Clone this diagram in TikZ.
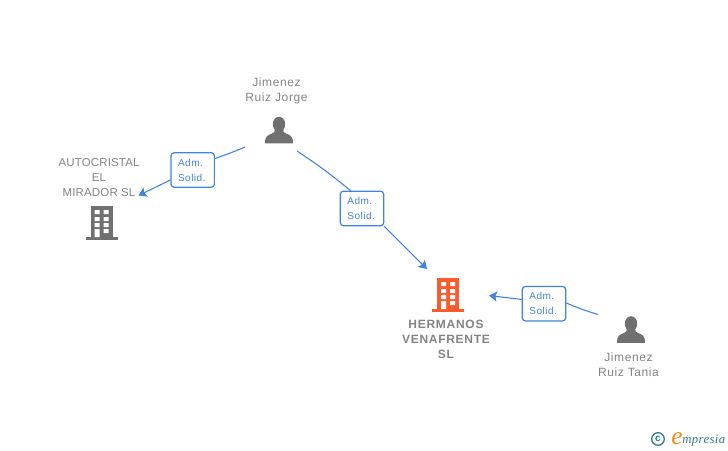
\documentclass[tikz,border=0pt]{standalone}
\usepackage{fontspec}
\setmainfont{Liberation Sans}
\newfontfamily\namefont[LetterSpace=5]{Liberation Sans}
\newfontfamily\orgfont[LetterSpace=1.5]{Liberation Sans}
\newfontfamily\boldnamefont[LetterSpace=6]{Liberation Sans Bold}
\newfontfamily\labfont[LetterSpace=5]{Liberation Sans}
\newfontfamily\logofont[LetterSpace=3]{Liberation Serif Italic}
\usetikzlibrary{arrows.meta}
\definecolor{txtgray}{HTML}{848484}
\definecolor{icongray}{HTML}{707070}
\definecolor{linkblue}{HTML}{3F83E0}
\definecolor{orangeb}{HTML}{FF5A2B}
\definecolor{logoteal}{HTML}{2E7C8E}
\definecolor{logoorange}{HTML}{F08A1D}
\tikzset{
  px/.style={x=0.75pt,y=-0.75pt},
  nametext/.style={text=txtgray,align=center,font=\fontsize{9}{11.25}\selectfont\namefont,inner sep=0pt},
  orgtext/.style={text=txtgray,align=center,font=\fontsize{8.6}{11.25}\selectfont\orgfont,inner sep=0pt},
  boldtext/.style={text=txtgray,align=center,font=\fontsize{9}{11.25}\selectfont\boldnamefont,inner sep=0pt},
  rolebox/.style={draw=linkblue,line width=0.9pt,rounded corners=2.2pt,fill=white,text=linkblue,align=left,text width=22pt,
    minimum width=32.5pt,minimum height=25.8pt,inner sep=0pt,font=\fontsize{7.5}{11.25}\selectfont\labfont},
  link/.style={draw=linkblue,line width=0.8pt},
  arrowlink/.style={link,-{Stealth[length=6pt,width=7.5pt,inset=1.2pt]}},
}
\newcommand{\personicon}[2]{%
  \begin{scope}[shift={(#1,#2)}]
    \fill[icongray] (0,-9.8) ellipse (6.2 and 7.5);
    \fill[icongray] (-14,9.3) .. controls (-14.5,2.5) and (-11,1) .. (-7,-0.5)
      .. controls (-5,-1.3) and (-4,-2) .. (-4,-5) -- (4,-5)
      .. controls (4,-2) and (5,-1.3) .. (7,-0.5)
      .. controls (11,1) and (14.5,2.5) .. (14,9.3) -- cycle;
  \end{scope}}
\newcommand{\buildingicon}[3]{%
  \begin{scope}[shift={(#1,#2)}]
    \fill[#3] (-11,-17) rectangle (11,14);
    \fill[#3] (-16,14) rectangle (16,17);
    \fill[white]
      (-7,-13) rectangle (-2,-9)  (2,-13) rectangle (7,-9)
      (-7,-6) rectangle (-2,-2)   (2,-6) rectangle (7,-2)
      (-7,0) rectangle (-2,4)     (2,0) rectangle (7,4)
      (-7,6) rectangle (-2,14)    (2,6) rectangle (7,10);
  \end{scope}}
\begin{document}
\begin{tikzpicture}[px]
\useasboundingbox (0,0) rectangle (728,450);
\fill[white] (0,0) rectangle (728,450);

% icons
\personicon{279}{134}
\personicon{631}{333.5}
\buildingicon{101.5}{223}{icongray}
\buildingicon{448}{295}{orangeb}

% texts
\node[nametext] (jorge) at (276.5,90.5) {Jimenez\\Ruiz Jorge};
\node[nametext] (tania) at (628.5,365) {Jimenez\\Ruiz Tania};
\node[orgtext] (auto) at (99,177.5) {AUTOCRISTAL\\EL\\MIRADOR SL};
\node[boldtext] (herm) at (446,339) {HERMANOS\\VENAFRENTE\\SL};

% role boxes
\node[rolebox] (r1) at (192.7,170) {Adm.\\Solid.};
\node[rolebox] (r2) at (362,208.5) {Adm.\\Solid.};
\node[rolebox] (r3) at (544,303.7) {Adm.\\Solid.};

% free ends
\coordinate (a1) at (245,147);
\coordinate (t1) at (138.5,195.5);
\coordinate (a2) at (297,151);
\coordinate (t2) at (427,269);
\coordinate (a3) at (598,314.5);
\coordinate (t3) at (489,295.5);
\coordinate (b1) at (r1.east |- 0,158.5);
\coordinate (c1) at (r1.west |- 0,180);
\coordinate (b2) at (351,191);
\coordinate (b3) at (r3.east |- 0,303);
\coordinate (c3) at (r3.west |- 0,299.5);

% connectors
\draw[link] (a1) to[bend left=2] (b1);
\draw[arrowlink] (c1) -- (t1);
\draw[link] (a2) to[bend left=3] (b2);
\draw[arrowlink] (r2.south east) -- (t2);
\draw[link] (a3) to[bend left=3] (b3);
\draw[arrowlink] (c3) -- (t3);

% logo
\draw[logoteal,line width=1pt] (658,439) circle (6.3);
\node[inner sep=0pt,text=logoteal,font=\fontsize{7.5}{8}\selectfont\bfseries] (c) at (658,438.6) {c};
\node[anchor=base west,inner sep=0pt,text=logoorange,font=\fontsize{19}{19}\selectfont\logofont] (e) at (671,444) {e};
\node[anchor=base west,inner sep=0pt,text=logoteal,font=\fontsize{9.6}{10}\selectfont\logofont] (m) at (682,443) {mpresia};
\end{tikzpicture}
\end{document}
